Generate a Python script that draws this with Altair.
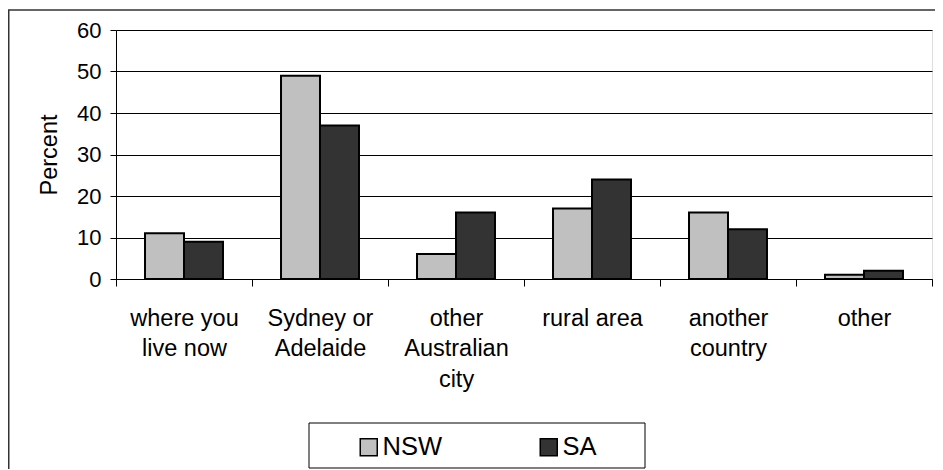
import altair as alt
import pandas as pd

categories = ["where you live now", "Sydney or Adelaide", "other Australian city",
              "rural area", "another country", "other"]
label_lines = [["where you", "live now"], ["Sydney or", "Adelaide"],
               ["other", "Australian", "city"], ["rural area"],
               ["another", "country"], ["other"]]
groups = ["NSW", "SA"]
nsw = [11, 49, 6, 17, 16, 1]
sa = [9, 37, 16, 24, 12, 2]
colors = ["#c0c0c0", "#333333"]
y_ticks = [0, 10, 20, 30, 40, 50, 60]

rows = []
for c, a, b in zip(categories, nsw, sa):
    rows.append({"category": c, "group": "NSW", "value": a})
    rows.append({"category": c, "group": "SA", "value": b})
df = pd.DataFrame(rows)

expr = "datum.value"
for c, lines in reversed(list(zip(categories, label_lines))):
    arr = "[" + ",".join("'" + s + "'" for s in lines) + "]"
    expr = f"datum.value == '{c}' ? {arr} : ({expr})"

FONT = "Liberation Sans"

bars = alt.Chart(df).mark_bar(stroke="black", strokeWidth=2).encode(
    x=alt.X("category:N", sort=categories,
            scale=alt.Scale(paddingInner=0, paddingOuter=0),
            axis=alt.Axis(title=None, labelAngle=0, labelExpr=expr,
                          labelFontSize=23.5, labelLineHeight=30.5,
                          labelPadding=20, tickSize=7, tickBand="extent",
                          grid=False, domainColor="black", tickColor="black",
                          labelColor="black", labelFont=FONT)),
    xOffset=alt.XOffset("group:N", sort=groups,
                        scale=alt.Scale(paddingInner=0, paddingOuter=0.744)),
    y=alt.Y("value:Q", scale=alt.Scale(domain=[0, 60], nice=False),
            axis=alt.Axis(title="Percent", values=y_ticks, grid=True,
                          gridColor="black", gridWidth=1,
                          domainColor="black", tickColor="black",
                          tickSize=6, labelPadding=9, labelFontSize=22,
                          labelColor="black", labelFont=FONT,
                          titleFont=FONT, titleFontSize=23.5,
                          titleFontWeight="normal", titleColor="black",
                          titleX=-67, titleY=124.5, titleAngle=270,
                          titleAlign="center", titleBaseline="middle")),
    color=alt.Color("group:N", sort=groups,
                    scale=alt.Scale(domain=groups, range=colors),
                    legend=alt.Legend(title=None, orient="none", legendX=240,
                                      legendY=404, direction="horizontal",
                                      symbolType="square", symbolSize=289,
                                      symbolStrokeColor="black",
                                      symbolStrokeWidth=1.5,
                                      labelFontSize=25.5, labelFont=FONT,
                                      labelColor="black", labelOffset=1,
                                      columnPadding=94, padding=0)),
)

one = pd.DataFrame({"k": [0]})
legend_box = alt.Chart(one).mark_rect(fill="white", stroke="black",
                                      strokeWidth=1).encode(
    x=alt.value(193), x2=alt.value(529), y=alt.value(393), y2=alt.value(438))
frame_left = alt.Chart(one).mark_rule(color="#333333", strokeWidth=1.5).encode(
    x=alt.value(-107.25), y=alt.value(-20), y2=alt.value(445))
frame_top = alt.Chart(one).mark_rule(color="#333333", strokeWidth=1.5).encode(
    x=alt.value(-108), x2=alt.value(819), y=alt.value(-20))

chart = alt.layer(frame_left, frame_top, legend_box, bars).properties(
    width=816, height=249,
    autosize=alt.AutoSizeParams(type="none"),
    padding={"left": 108, "top": 22, "right": 3, "bottom": 190},
).configure_view(stroke="#808080", strokeWidth=1.5).configure(
    background="white")

chart.save("out.html", embed_options={"renderer": "svg", "actions": False})
